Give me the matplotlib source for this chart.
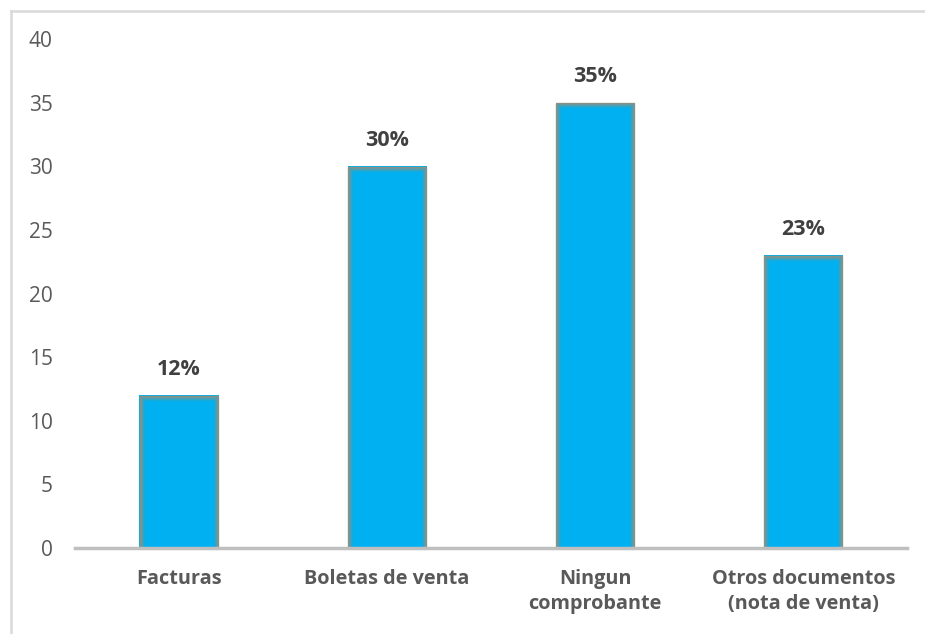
import matplotlib.pyplot as plt
from matplotlib.lines import Line2D

# comprobantes de pago que emiten los negocios
categorias = ["Facturas", "Boletas de venta", "Ningun\ncomprobante",
              "Otros documentos\n(nota de venta)"]
porcentajes = [12, 30, 35, 23]
y_ticks = [0, 5, 10, 15, 20, 25, 30, 35, 40]

plt.rcParams['font.family'] = ['Open Sans', 'DejaVu Sans']

fig = plt.figure(figsize=(9.25, 6.34), dpi=100)
ax = fig.add_axes([0.081, 0.1356, 0.9, 0.8029])
ax.set_xlim(-0.5, 3.5)
ax.set_ylim(0, 40)

x = list(range(len(categorias)))
ancho = 0.38
bars = ax.bar(x, porcentajes, width=ancho, color='#00b0f0', zorder=2)

# borde difuso hacia dentro de cada barra
px_x = 4 / (0.9 * 925)
px_y = 40 / (0.8029 * 634)
for k, a in enumerate([0.85, 0.6, 0.4, 0.25, 0.12]):
    d = k + 0.5
    ax.bar(x, [v - d * px_y for v in porcentajes], width=ancho - 2 * d * px_x,
           facecolor='none', edgecolor='#9a8f78', linewidth=1.0, alpha=a,
           zorder=3)

for b, v in zip(bars, porcentajes):
    ax.annotate(f"{v}%", (b.get_x() + b.get_width() / 2, v),
                xytext=(0, 11), textcoords='offset points',
                ha='center', va='bottom', fontsize=15.5, fontweight='bold',
                color='#404040')

ax.set_yticks(y_ticks)
ax.set_xticks(x)
ax.set_xticklabels(categorias, fontsize=14.3, fontweight='bold', color='#595959',
                   linespacing=1.35)
ax.tick_params(axis='y', length=0, pad=16, labelsize=15, labelcolor='#595959')
ax.tick_params(axis='x', length=0, pad=15)

for s in ['top', 'right', 'left']:
    ax.spines[s].set_visible(False)
ax.spines['bottom'].set_color('#bfbfbf')
ax.spines['bottom'].set_linewidth(2.5)
ax.spines['bottom'].set_zorder(4)

# marco exterior gris claro
fig.add_artist(Line2D([10.5 / 925, 10.5 / 925], [0, 1 - 10.5 / 634],
                      transform=fig.transFigure, color='#d9d9d9', lw=1.8))
fig.add_artist(Line2D([10.5 / 925, 1], [1 - 10.5 / 634, 1 - 10.5 / 634],
                      transform=fig.transFigure, color='#d9d9d9', lw=1.8))

fig.savefig('out.png', dpi=100, facecolor='white')
